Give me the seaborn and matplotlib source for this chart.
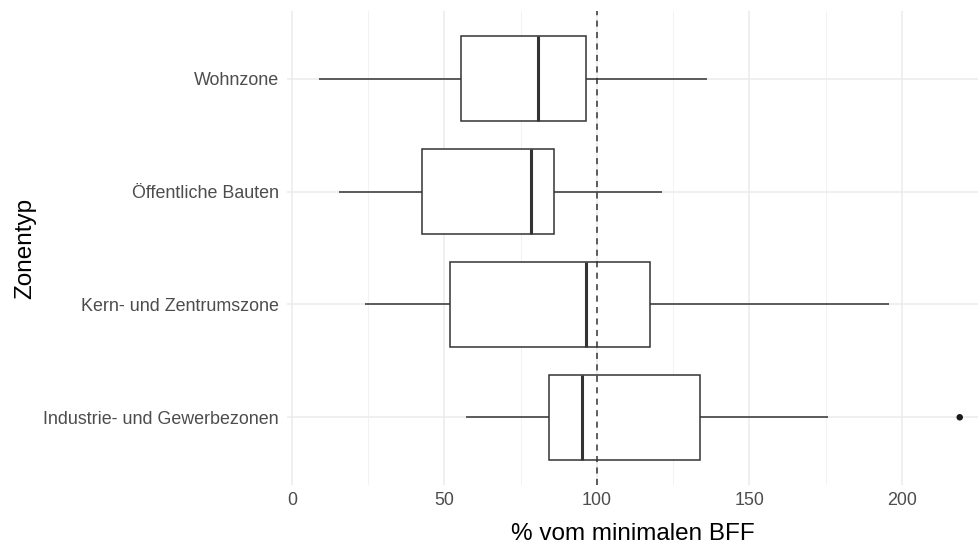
import matplotlib
matplotlib.use("Agg")
import matplotlib.pyplot as plt
import seaborn as sns
import pandas as pd

# Five-number summaries per zone type (% of minimal BFF)
zones = ["Wohnzone", "Öffentliche Bauten", "Kern- und Zentrumszone",
         "Industrie- und Gewerbezonen"]
whisker_low = [8.9, 15.5, 23.9, 57.0]
q1 = [55.5, 42.7, 51.8, 84.2]
median = [80.8, 78.3, 96.5, 95.0]
q3 = [96.5, 85.8, 117.3, 133.8]
whisker_high = [136.1, 121.2, 195.7, 175.8]

# Points beyond the whiskers
outlier_zone = ["Industrie- und Gewerbezonen"]
outlier_value = [219.0]

reference_value = 100
x_ticks = [0, 50, 100, 150, 200]

rows = []
for i, z in enumerate(zones):
    for v in (whisker_low[i], q1[i], median[i], q3[i], whisker_high[i]):
        rows.append({"Zonentyp": z, "value": v})
df = pd.DataFrame(rows)
df_out = pd.DataFrame({"Zonentyp": outlier_zone, "value": outlier_value})

sns.set_theme(style="whitegrid")
plt.rcParams["font.family"] = ["Liberation Sans", "DejaVu Sans"]

fig = plt.figure(figsize=(9.79, 5.52), dpi=100)
ax = fig.add_axes([0.2932, 0.1214, 0.9990 - 0.2932, 0.980 - 0.1214])

edge = "#333333"
sns.boxplot(data=df, x="value", y="Zonentyp", order=zones, whis=(0, 100),
            color="white", linecolor=edge, linewidth=1.1, width=0.75,
            showcaps=False, fliersize=0,
            medianprops={"linewidth": 2.2, "color": edge},
            ax=ax, zorder=3)
sns.scatterplot(data=df_out, x="value", y="Zonentyp", color="#1a1a1a",
                s=22, edgecolor="none", ax=ax, zorder=4)

ax.axvline(reference_value, color=edge, linewidth=1.1,
           linestyle=(0, (4, 3.5)), zorder=5)

ax.set_xlim(-1.64, 224.9)
ax.set_ylim(3.6, -0.6)
ax.set_xticks(x_ticks)
ax.set_xticks([25, 75, 125, 175, 225], minor=True)

ax.set_facecolor("white")
for s in ax.spines.values():
    s.set_visible(False)
ax.grid(True, which="major", axis="both", color="#EBEBEB", linewidth=1.1)
ax.grid(True, which="minor", axis="x", color="#F2F2F2", linewidth=0.7)
ax.set_axisbelow(True)
ax.tick_params(axis="both", which="both", length=0, labelsize=12.9,
               labelcolor="#4D4D4D")
ax.tick_params(axis="x", pad=5)
ax.tick_params(axis="y", pad=6)

ax.set_xlabel("% vom minimalen BFF", fontsize=17.5, color="black", labelpad=10)
ax.set_ylabel("Zonentyp", fontsize=17.5, color="black", labelpad=5)

fig.savefig("out.png", dpi=100, facecolor="white")
